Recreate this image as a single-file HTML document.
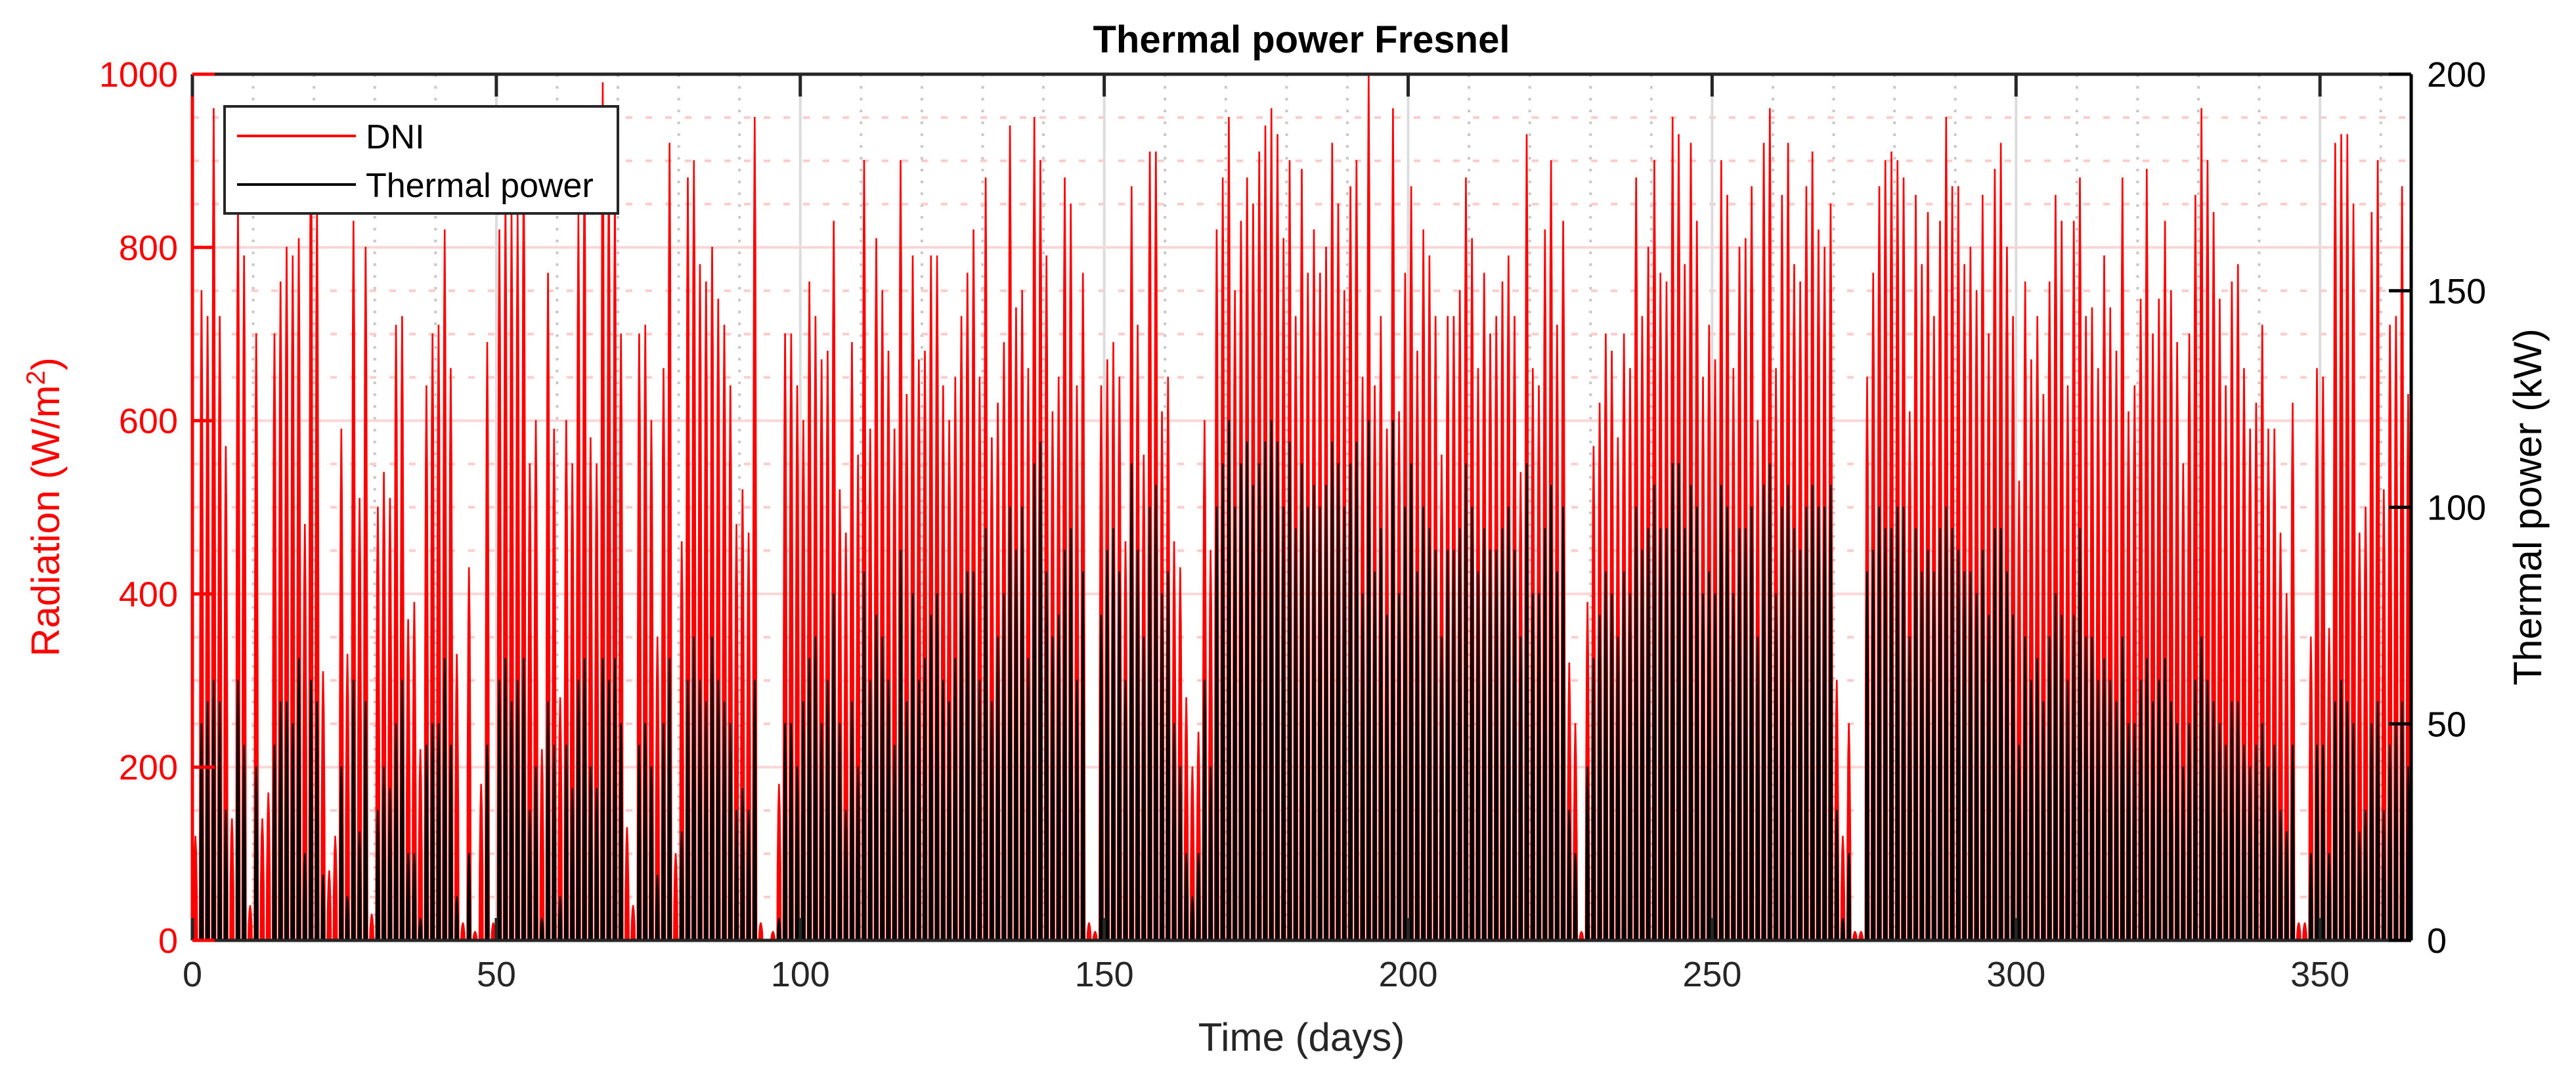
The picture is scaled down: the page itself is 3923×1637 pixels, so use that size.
<!DOCTYPE html>
<html><head><meta charset="utf-8"><style>
html,body{margin:0;padding:0;background:#fff}
svg text{font-family:"Liberation Sans",Arial,sans-serif}
</style></head><body>
<svg id="chart" width="3923" height="1632" viewBox="0 0 3923 1632" xmlns="http://www.w3.org/2000/svg">
<rect x="0" y="0" width="3923" height="1632" fill="#fff"/>
<g id="grid"></g>
<g id="series"></g>
<g id="axes"></g>
<text x="1982" y="80" font-size="58" font-weight="bold" text-anchor="middle" fill="#000">Thermal power Fresnel</text>
<text x="1982" y="1600" font-size="60" text-anchor="middle" fill="#262626">Time (days)</text>
<text transform="translate(90,772) rotate(-90)" font-size="60" text-anchor="middle" fill="#f00">Radiation (W/m<tspan baseline-shift="super" font-size="40">2</tspan>)</text>
<text transform="translate(3870,772) rotate(-90)" font-size="60" text-anchor="middle" fill="#000">Thermal power (kW)</text>
<g>
<rect x="342" y="162" width="599" height="163" fill="#fff" stroke="#262626" stroke-width="4"/>
<line x1="361" y1="207" x2="542" y2="207" stroke="#f00" stroke-width="4"/>
<text x="557" y="226" font-size="52" fill="#000">DNI</text>
<line x1="361" y1="281" x2="542" y2="281" stroke="#000" stroke-width="4"/>
<text x="557" y="300" font-size="52" fill="#000">Thermal power</text>
</g>
</svg>
<script>
const xTicks=[0,50,100,150,200,250,300,350];
const leftTicks=[0,200,400,600,800,1000];
const rightTicks=[0,50,100,150,200];
const dniPeak=[
120,750,720,960,720,570,140,850,790,40,
700,140,170,700,760,800,790,810,480,960,
850,310,80,120,590,330,830,510,800,30,
500,540,510,710,720,370,390,220,640,700,
710,820,660,330,20,430,10,180,690,20,
820,860,840,840,900,550,600,220,770,590,
280,600,550,840,920,580,550,990,900,870,
700,130,40,700,710,600,350,660,920,100,
460,880,900,780,760,800,740,710,640,480,
520,470,950,20,0,10,180,700,700,640,
600,760,720,670,680,830,520,470,690,560,
900,590,810,750,680,590,900,630,790,670,
680,790,790,640,600,650,720,770,820,650,
880,580,620,690,940,730,750,660,950,900,
790,610,650,880,850,640,770,20,10,640,
670,690,650,460,870,710,560,910,910,610,
650,460,430,280,200,240,600,450,820,880,
950,750,830,880,850,910,940,960,930,810,
900,720,890,770,820,770,800,920,850,750,
870,900,650,1000,640,720,590,960,610,770,
870,680,820,790,720,560,720,720,750,880,
810,660,770,700,720,760,790,720,540,930,
660,640,820,900,710,830,320,250,10,390,
570,620,700,680,580,700,660,880,720,800,
900,770,760,950,930,780,920,830,650,710,
670,900,860,660,800,810,870,600,920,960,
660,860,920,780,760,870,910,820,800,850,
300,120,250,10,10,650,770,870,900,910,
900,880,610,860,780,840,720,830,950,870,
870,780,800,750,860,700,890,920,800,720,
530,760,670,720,630,760,860,830,640,830,
880,720,730,660,790,730,680,880,610,640,
740,890,700,740,830,750,690,550,700,860,
960,900,840,740,640,760,780,660,590,620,
710,590,590,470,400,620,20,20,350,660,
650,360,920,930,930,850,470,500,840,900,
520,710,720,870,630];
const powerPeak=[
0,50,55,60,55,30,0,60,45,0,
40,0,0,45,55,55,50,65,20,60,
55,15,0,0,40,10,60,25,55,0,
30,40,35,50,60,20,20,5,45,50,
50,65,45,10,0,20,0,0,45,0,
60,65,55,60,65,30,40,5,55,45,
10,45,35,60,65,40,35,65,60,65,
50,0,0,45,50,40,15,50,65,0,
25,60,70,60,55,70,60,55,50,30,
35,30,60,0,0,0,5,50,50,40,
55,65,70,50,60,80,50,30,55,40,
85,60,75,70,60,45,90,55,80,60,
65,75,80,60,55,65,80,85,85,60,
95,55,70,80,100,90,100,65,110,115,
85,70,75,90,95,60,85,0,0,75,
90,95,85,60,110,90,70,100,105,80,
85,50,40,20,10,20,60,40,100,110,
120,100,110,115,105,110,115,120,115,100,
115,95,110,100,105,100,105,115,110,100,
110,115,80,120,85,95,75,120,80,100,
110,85,100,95,90,70,90,90,95,110,
100,85,95,90,90,95,100,90,70,110,
80,80,95,105,85,100,30,20,0,40,
65,75,85,80,70,85,80,100,90,95,
105,95,95,110,110,95,105,100,80,85,
80,105,100,80,95,95,100,70,105,110,
80,100,105,95,90,100,105,100,100,105,
30,5,20,0,0,85,90,100,95,95,
100,100,70,95,85,90,85,95,100,95,
90,85,85,80,90,75,95,95,85,75,
45,70,60,65,55,70,80,75,60,75,
95,70,70,60,65,60,55,70,50,50,
60,65,55,60,65,55,50,40,50,60,
70,60,55,50,45,55,55,45,40,45,
50,40,45,30,25,45,0,0,20,45,
45,20,55,60,55,50,25,30,50,55,
30,45,50,55,40];

const L=293,R=3672,T=113,B=1432;
const xMax=365, yLMax=1000, yRMax=200;
const NS='http://www.w3.org/2000/svg';
const sx=d=>L+(d/xMax)*(R-L);
const syL=v=>B-(v/yLMax)*(B-T);
const syR=v=>B-(v/yRMax)*(B-T);
function mk(tag,attrs,parent){const e=document.createElementNS(NS,tag);for(const k in attrs)e.setAttribute(k,attrs[k]);parent.appendChild(e);return e;}
const grid=document.getElementById('grid'),series=document.getElementById('series'),axes=document.getElementById('axes');

for(let d=10;d<xMax;d+=10){if(d%50===0)continue;
 const e=mk('line',{x1:sx(d),x2:sx(d),y1:T,y2:B,stroke:'#c8c8c8','stroke-width':4,'stroke-dasharray':'4 14'},grid);
 }
for(let v=50;v<yLMax;v+=50){if(v%200===0)continue;
 const e=mk('line',{x1:L,x2:R,y1:syL(v),y2:syL(v),stroke:'#fcc','stroke-width':4,'stroke-dasharray':'10 20'},grid);
 }
xTicks.forEach(d=>{if(d===0)return;
 const e=mk('line',{x1:sx(d),x2:sx(d),y1:T,y2:B,stroke:'#dcdcdc','stroke-width':4},grid);
 });
leftTicks.forEach(v=>{if(v===0||v===yLMax)return;
 const e=mk('line',{x1:L,x2:R,y1:syL(v),y2:syL(v),stroke:'#fbd6d6','stroke-width':4},grid);
 });

function spike(d,h,sy,w){
 const c=d+0.5;
 const pts=[[c-w,0],[c-w*0.85,h*0.45],[c-w*0.45,h*0.85],[c-w*0.1,h],[c+w*0.1,h],[c+w*0.45,h*0.85],[c+w*0.85,h*0.45],[c+w,0]];
 return pts.map(p=>sx(p[0]).toFixed(1)+','+sy(p[1]).toFixed(1)).join(' ');
}
dniPeak.forEach((v,i)=>{
 const e=mk('polygon',{points:spike(i,v,syL,0.32),fill:'#f00',stroke:'#f00','stroke-width':2},series);
 });
powerPeak.forEach((v,i)=>{if(v<=0)return;
 const e=mk('polygon',{points:spike(i,v,syR,0.26),fill:'#000',stroke:'#000','stroke-width':2},series);
 });

let e;
e=mk('line',{x1:L,x2:R,y1:T,y2:T,stroke:'#262626','stroke-width':5},axes);
e=mk('line',{x1:L,x2:R,y1:B,y2:B,stroke:'#262626','stroke-width':5},axes);
e=mk('line',{x1:L,x2:L,y1:T,y2:B,stroke:'#f00','stroke-width':5},axes);
e=mk('line',{x1:R,x2:R,y1:T,y2:B,stroke:'#000','stroke-width':5},axes);
xTicks.forEach(d=>{
 e=mk('line',{x1:sx(d),x2:sx(d),y1:B,y2:B-34,stroke:'#262626','stroke-width':5},axes);
 e=mk('line',{x1:sx(d),x2:sx(d),y1:T,y2:T+34,stroke:'#262626','stroke-width':5},axes);
 const t=mk('text',{x:sx(d),y:B+70,'font-size':54,'text-anchor':'middle',fill:'#262626'},axes);t.textContent=d;
 });
leftTicks.forEach(v=>{
 e=mk('line',{x1:L,x2:L+34,y1:syL(v),y2:syL(v),stroke:'#f00','stroke-width':5},axes);
 const t=mk('text',{x:L-22,y:syL(v)+19,'font-size':54,'text-anchor':'end',fill:'#f00'},axes);t.textContent=v;
 });
rightTicks.forEach(v=>{
 e=mk('line',{x1:R,x2:R-34,y1:syR(v),y2:syR(v),stroke:'#000','stroke-width':5},axes);
 const t=mk('text',{x:R+24,y:syR(v)+19,'font-size':54,'text-anchor':'start',fill:'#000'},axes);t.textContent=v;
 });
</script>
</body></html>
